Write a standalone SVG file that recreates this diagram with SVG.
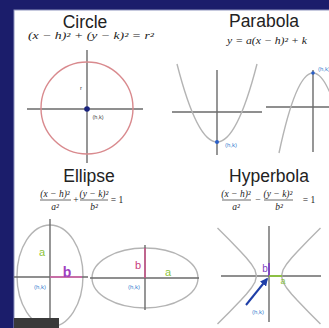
<svg xmlns="http://www.w3.org/2000/svg" width="329" height="328" viewBox="0 0 329 328">
<style>
.title{font-family:"Liberation Sans",Arial,sans-serif;font-size:17.5px;fill:#222;text-anchor:middle}
.f{font-family:"Liberation Serif","Times New Roman",serif;font-style:italic;font-size:9.5px;fill:#222;text-anchor:middle}
.n{font-style:normal}
.axis{stroke:#6a6a6a;stroke-width:1.4;fill:none}
.curve{stroke:#b4b4b4;stroke-width:1.4;fill:none}
.hk{font-family:"Liberation Sans",Arial,sans-serif;font-size:6px;fill:#3a7fd0;text-anchor:middle}
.lbl{font-family:"Liberation Sans",Arial,sans-serif;text-anchor:middle}
.bar{stroke:#444;stroke-width:0.8}
</style>
<defs>
<marker id="ah" viewBox="0 0 10 10" refX="8" refY="5" markerWidth="4" markerHeight="4" orient="auto"><path d="M0,0 L10,5 L0,10 z" fill="#1f3fa8"/></marker>
</defs>
<rect x="0" y="0" width="329" height="328" fill="#1b1d6b"/>
<rect x="14" y="10" width="316" height="319" fill="#ffffff" stroke="#8d93bd" stroke-width="1"/>

<g id="circle">
<text class="title" x="85" y="28">Circle</text>
<text class="f" x="91" y="39" font-size="11" textLength="126" lengthAdjust="spacingAndGlyphs">(x − h)² + (y − k)² = r²</text>
<line class="axis" x1="27" y1="109" x2="143" y2="109"/>
<line class="axis" x1="87" y1="50" x2="87" y2="163"/>
<circle cx="87" cy="108" r="46" fill="none" stroke="#d98a8e" stroke-width="1.4"/>
<circle cx="87" cy="109" r="2.8" fill="#1a237e"/>
<text class="lbl" x="81" y="90" font-size="6" fill="#444">r</text>
<text class="lbl" x="98" y="119" font-size="5.5" fill="#444">(h,k)</text>
</g>

<g id="parabola">
<text class="title" x="264" y="27">Parabola</text>
<text class="f" x="267" y="44" font-size="11" textLength="80" lengthAdjust="spacingAndGlyphs">y = a(x − h)² + k</text>
<line class="axis" x1="172" y1="112" x2="262" y2="112"/>
<line class="axis" x1="217" y1="70" x2="217" y2="155"/>
<path class="curve" d="M177,64 Q217,220 257,64"/>
<circle cx="217" cy="142" r="2" fill="#2a5fc8"/>
<text class="hk" x="231" y="147" font-size="7">(h,k)</text>
<line class="axis" x1="266" y1="107" x2="329" y2="107"/>
<line class="axis" x1="313" y1="70" x2="313" y2="152"/>
<path class="curve" d="M279,153 Q313,-7 347,153"/>
<circle cx="313" cy="73" r="1.8" fill="#2a5fc8"/>
<text class="hk" x="324" y="71" font-size="7">(h,k)</text>
</g>

<g id="ellipse">
<text class="title" x="89" y="182">Ellipse</text>
<text class="f" x="55" y="197">(x − h)²</text>
<line class="bar" x1="40" y1="200" x2="71" y2="200"/>
<text class="f" x="55" y="210">a²</text>
<text class="f n" x="76" y="203">+</text>
<text class="f" x="94" y="197">(y − k)²</text>
<line class="bar" x1="80" y1="200" x2="108" y2="200"/>
<text class="f" x="94" y="210">b²</text>
<text class="f n" x="117" y="203">= 1</text>

<ellipse cx="50" cy="276" rx="33" ry="51" class="curve"/>
<line class="axis" x1="14" y1="277" x2="88" y2="277"/>
<line class="axis" x1="50" y1="219" x2="50" y2="328"/>
<line x1="50" y1="277" x2="82" y2="277" stroke="#e060b0" stroke-width="1.4"/>
<text class="lbl" x="42" y="256" font-size="11" fill="#8cc43c">a</text>
<text class="lbl" x="67" y="277" font-size="14" font-weight="bold" fill="#a040c0">b</text>
<text class="hk" x="40" y="289">(h,k)</text>

<ellipse cx="145" cy="278" rx="53" ry="30" class="curve"/>
<line class="axis" x1="90" y1="278" x2="199" y2="278"/>
<line class="axis" x1="145" y1="245" x2="145" y2="310"/>
<line x1="145" y1="248" x2="145" y2="278" stroke="#d0508a" stroke-width="1.4"/>
<text class="lbl" x="138" y="269" font-size="11" fill="#c84080">b</text>
<text class="lbl" x="168" y="276" font-size="11" fill="#8cc43c">a</text>
<text class="hk" x="134" y="289" font-size="7">(h,k)</text>
</g>

<g id="hyperbola">
<text class="title" x="269" y="182">Hyperbola</text>
<text class="f" x="236" y="197">(x − h)²</text>
<line class="bar" x1="222" y1="200" x2="251" y2="200"/>
<text class="f" x="236" y="210">a²</text>
<text class="f n" x="258" y="203">−</text>
<text class="f" x="278" y="197">(y − k)²</text>
<line class="bar" x1="264" y1="200" x2="293" y2="200"/>
<text class="f" x="279" y="210">b²</text>
<text class="f n" x="309" y="203">= 1</text>

<line class="axis" x1="221" y1="276" x2="321" y2="276" stroke="#a8a8a8"/>
<line class="axis" x1="269" y1="226" x2="269" y2="322" stroke="#a8a8a8"/>
<path class="curve" d="M217.5,228 L229.5,240 L241,252 L246.5,258 L251.3,264 L255,270 L256.5,276 L255,282 L251.3,288 L246.5,294 L241,300 L229.5,312 L217.5,324"/>
<path class="curve" d="M320.5,228 L308.5,240 L297,252 L291.5,258 L286.7,264 L283,270 L281.5,276 L283,282 L286.7,288 L291.5,294 L297,300 L308.5,312 L320.5,324"/>
<line x1="269" y1="263" x2="269" y2="276" stroke="#8040c0" stroke-width="1.8"/>
<line x1="269" y1="276" x2="282" y2="276" stroke="#8cc43c" stroke-width="1.8"/>
<line x1="246" y1="305" x2="267" y2="279" stroke="#1f3fa8" stroke-width="2" marker-end="url(#ah)"/>
<text class="lbl" x="265" y="272" font-size="10" fill="#8040c0">b</text>
<text class="lbl" x="283" y="284" font-size="9" fill="#8cc43c">a</text>
<text class="hk" x="258" y="314" font-size="7.5">(h,k)</text>
</g>

<rect x="14" y="318" width="45" height="10" fill="#3a3a3a"/>
</svg>
